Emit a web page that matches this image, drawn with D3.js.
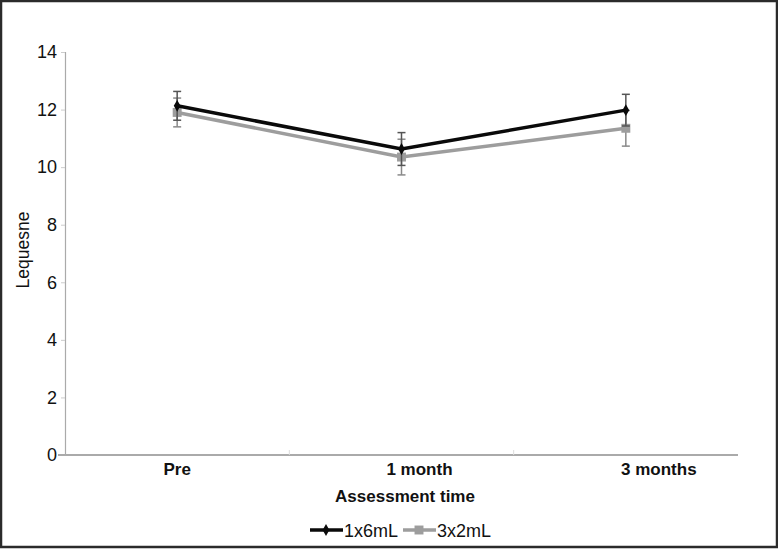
<!DOCTYPE html>
<html>
<head>
<meta charset="utf-8">
<script src="https://cdn.jsdelivr.net/npm/d3@7"></script>
<style>
  body { margin: 0; background: #fff; }
  svg { font-family: "Liberation Sans", Arial, Helvetica, sans-serif; display: block; }
</style>
</head>
<body>
<div id="chart"></div>
<script>
// chart data
var categories = ["Pre", "1 month", "3 months"];
var seriesNames = ["1x6mL", "3x2mL"];
var means6 = [12.13, 10.63, 11.98];
var err6 = [0.5, 0.57, 0.55];
var means2 = [11.9, 10.35, 11.35];
var err2 = [0.5, 0.62, 0.62];
var yTicks = [0, 2, 4, 6, 8, 10, 12, 14];

var svgWidth = 778;
var svgHeight = 549;

var margin = { top: 52, right: 40, bottom: 94, left: 65 };
var width = 738 - margin.left;
var height = 455 - margin.top;

var svg = d3.select("#chart")
  .append("svg")
  .attr("width", svgWidth)
  .attr("height", svgHeight);

// frame
svg.append("rect")
  .attr("x", 1).attr("y", 1)
  .attr("width", svgWidth - 2).attr("height", svgHeight - 3)
  .attr("fill", "#fff")
  .attr("stroke", "#2b2b2b")
  .attr("stroke-width", 2.5);

var chartGroup = svg.append("g")
  .attr("transform", `translate(${margin.left},${margin.top})`);

var xScale = d3.scaleBand()
  .domain(categories)
  .range([0, width]);

var yScale = d3.scaleLinear()
  .domain([0, 14])
  .range([height, 0]);

// y axis
var leftAxis = d3.axisLeft(yScale).tickValues(yTicks).tickSize(4).tickPadding(4);
var yAxis = chartGroup.append("g").call(leftAxis);
yAxis.select(".domain").attr("stroke", "#aaa").attr("stroke-width", 1.2);
yAxis.selectAll(".tick line").attr("stroke", "#ccc");
yAxis.selectAll(".tick text")
  .attr("font-size", 18)
  .attr("fill", "#111");

// x axis
var xAxis = chartGroup.append("g")
  .attr("transform", `translate(0, ${height})`);
xAxis.append("line")
  .attr("x1", -7).attr("x2", width)
  .attr("stroke", "#aaa").attr("stroke-width", 2);
xAxis.selectAll(".xtick")
  .data(categories.slice(1))
  .enter()
  .append("line")
  .attr("x1", d => xScale(d)).attr("x2", d => xScale(d))
  .attr("y1", 0).attr("y2", -5)
  .attr("stroke", "#ddd");

// label offsets as in the original rendering
var labelShift = [0, 18, 33];
xAxis.selectAll(".xlabel")
  .data(categories)
  .enter()
  .append("text")
  .attr("x", (d, i) => xScale(d) + xScale.bandwidth() / 2 + labelShift[i])
  .attr("y", 20)
  .attr("text-anchor", "middle")
  .attr("font-size", 17)
  .attr("font-weight", "bold")
  .attr("fill", "#111")
  .text(d => d);

// axis titles
chartGroup.append("text")
  .attr("x", 405 - margin.left)
  .attr("y", height + 47)
  .attr("text-anchor", "middle")
  .attr("font-size", 17)
  .attr("font-weight", "bold")
  .attr("fill", "#111")
  .text("Assessment time");

chartGroup.append("text")
  .attr("transform", "rotate(-90)")
  .attr("x", -(250 - margin.top))
  .attr("y", -margin.left + 29)
  .attr("text-anchor", "middle")
  .attr("font-size", 17.5)
  .attr("fill", "#111")
  .text("Lequesne");

var cx = d => xScale(d) + xScale.bandwidth() / 2;

function drawSeries(means, errs, color, errColor, marker) {
  var pts = categories.map((c, i) => ({ c: c, v: means[i], e: errs[i] }));
  var g = chartGroup.append("g");

  // error bars
  var eb = g.selectAll(".eb").data(pts).enter().append("g");
  eb.append("line")
    .attr("x1", d => cx(d.c)).attr("x2", d => cx(d.c))
    .attr("y1", d => yScale(d.v + d.e)).attr("y2", d => yScale(d.v - d.e))
    .attr("stroke", errColor).attr("stroke-width", 1.5);
  [1, -1].forEach(s => {
    eb.append("line")
      .attr("x1", d => cx(d.c) - 4).attr("x2", d => cx(d.c) + 4)
      .attr("y1", d => yScale(d.v + s * d.e)).attr("y2", d => yScale(d.v + s * d.e))
      .attr("stroke", errColor).attr("stroke-width", 1.5);
  });

  var line = d3.line().x(d => cx(d.c)).y(d => yScale(d.v));
  g.append("path")
    .datum(pts)
    .attr("d", line)
    .attr("fill", "none")
    .attr("stroke", color)
    .attr("stroke-width", 3.5);

  g.selectAll(".pt").data(pts).enter()
    .append("path")
    .attr("transform", d => `translate(${cx(d.c)},${yScale(d.v)})`)
    .attr("d", marker)
    .attr("fill", color);
}

var diamond = d3.symbol().type(d3.symbolDiamond).size(40)();
var square = d3.symbol().type(d3.symbolSquare).size(80)();

drawSeries(means2, err2, "#9d9d9d", "#8a8a8a", square);
drawSeries(means6, err6, "#0a0a0a", "#555", diamond);

// legend
var legend = svg.append("g").attr("transform", "translate(310, 530)");
var legendItems = [
  { name: seriesNames[0], color: "#0a0a0a", marker: diamond, x: 0 },
  { name: seriesNames[1], color: "#9d9d9d", marker: square, x: 93 }
];
var li = legend.selectAll(".li").data(legendItems).enter()
  .append("g")
  .attr("transform", d => `translate(${d.x},0)`);
li.append("line")
  .attr("x1", 0).attr("x2", 33)
  .attr("stroke", d => d.color).attr("stroke-width", 3.5);
li.append("path")
  .attr("transform", "translate(16,0)")
  .attr("d", d => d.marker)
  .attr("fill", d => d.color);
li.append("text")
  .attr("x", 34)
  .attr("y", 7)
  .attr("font-size", 18)
  .attr("fill", "#111")
  .text(d => d.name);
</script>
</body>
</html>
